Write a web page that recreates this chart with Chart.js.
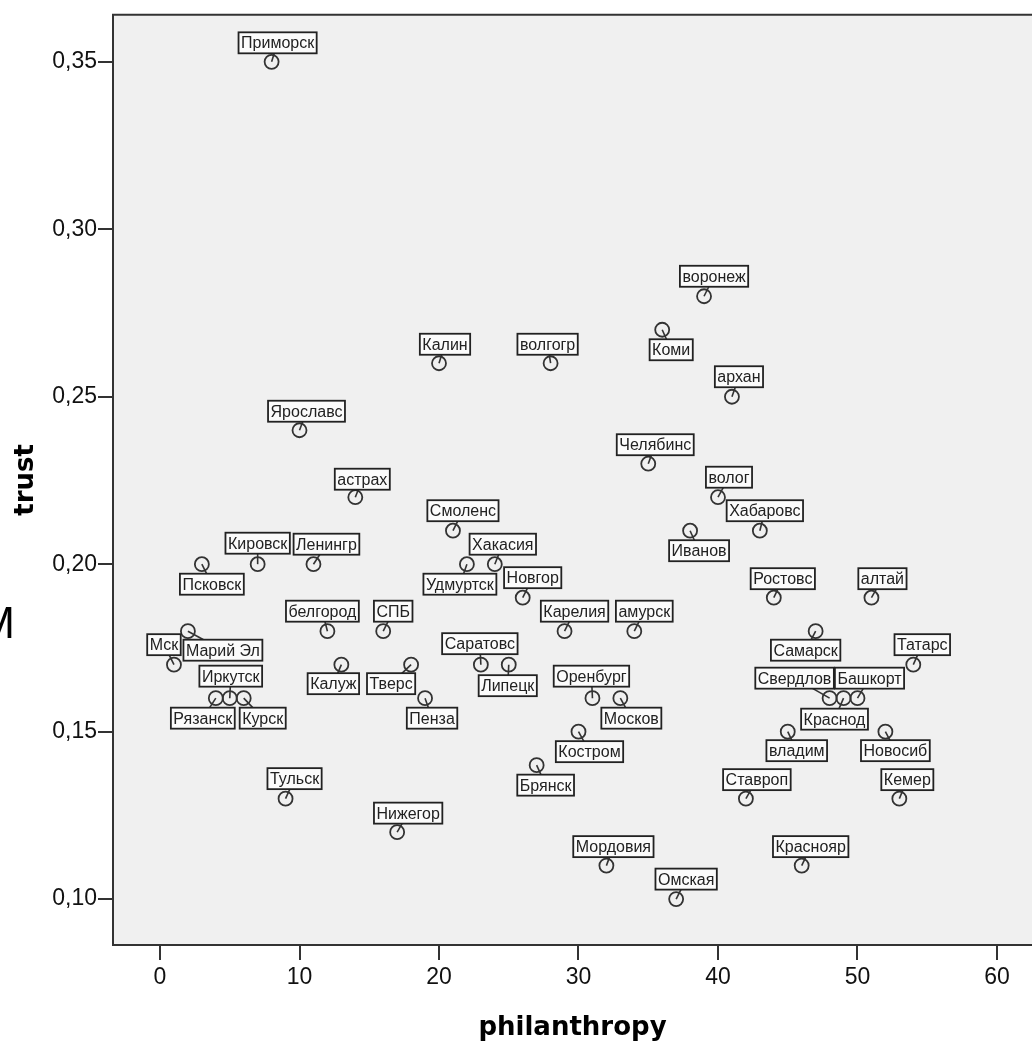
<!DOCTYPE html>
<html>
<head>
<meta charset="utf-8">
<script src="https://cdn.jsdelivr.net/npm/chart.js"></script>
<style>
  html, body { margin: 0; padding: 0; background: #fff; overflow: hidden; }
  canvas { display: block; }
</style>
</head>
<body>
<canvas id="scatter" width="1032" height="1047"></canvas>
<script>
// data
var regions = ["Приморск", "воронеж", "Коми", "Калин", "волгогр", "архан", "Ярославс", "Челябинс",
    "астрах", "волог", "Смоленс", "Хабаровс", "Иванов", "Кировск", "Ленингр", "Псковск",
    "Удмуртск", "Хакасия", "Новгор", "Ростовс", "алтай", "белгород", "СПБ", "Карелия",
    "амурск", "Марий Эл", "Мск", "Самарск", "Калуж", "Тверс", "Саратовс", "Липецк",
    "Татарс", "Рязанск", "Иркутск", "Курск", "Пенза", "Оренбург", "Москов", "Свердлов",
    "Краснод", "Башкорт", "Костром", "владим", "Новосиб", "Брянск", "Тульск", "Ставроп",
    "Кемер", "Нижегор", "Мордовия", "Краснояр", "Омская"];
var philanthropy = [8, 39, 36, 20, 28, 41, 10, 35,
    14, 40, 21, 43, 38, 7, 11, 3,
    22, 24, 26, 44, 51, 12, 16, 29,
    34, 2, 1, 47, 13, 18, 23, 25,
    54, 4, 5, 6, 19, 31, 33, 48,
    49, 50, 30, 45, 52, 27, 9, 42,
    53, 17, 32, 46, 37];
var trust = [0.35, 0.28, 0.27, 0.26, 0.26, 0.25, 0.24, 0.23,
    0.22, 0.22, 0.21, 0.21, 0.21, 0.20, 0.20, 0.20,
    0.20, 0.20, 0.19, 0.19, 0.19, 0.18, 0.18, 0.18,
    0.18, 0.18, 0.17, 0.18, 0.17, 0.17, 0.17, 0.17,
    0.17, 0.16, 0.16, 0.16, 0.16, 0.16, 0.16, 0.16,
    0.16, 0.16, 0.15, 0.15, 0.15, 0.14, 0.13, 0.13,
    0.13, 0.12, 0.11, 0.11, 0.10];
var xTicks = [0, 10, 20, 30, 40, 50, 60];
var xTickLabels = ["0", "10", "20", "30", "40", "50", "60"];
var yTicks = [0.10, 0.15, 0.20, 0.25, 0.30, 0.35];
var yTickLabels = ["0,10", "0,15", "0,20", "0,25", "0,30", "0,35"];

// where each label box sits relative to its point (px), as in the picture
var labelShift = [[6,-19],[10,-20],[9,20],[6,-19],[-3,-19],[7,-20],[7,-19],[7,-19],
    [7,-18],[11,-20],[10,-20],[5,-20],[9,20],[0,-21],[13,-20],[10,20],
    [-7,20],[8,-20],[10,-20],[9,-19],[11,-19],[-5,-20],[10,-20],[10,-20],
    [10,-20],[35,19],[-10,-20],[-10,19],[-8,19],[-20,19],[-1,-21],[-1,21],
    [9,-20],[-13,20],[1,-22],[19,20],[7,20],[-1,-22],[11,20],[-35,-20],
    [-9,21],[12,-20],[11,20],[9,19],[10,19],[9,20],[9,-20],[11,-19],
    [8,-19],[11,-19],[7,-19],[9,-19],[10,-20]];

var points = philanthropy.map(function (x, i) { return { x: x, y: trust[i] }; });
var labelFont = "16px 'Liberation Sans', Arial, sans-serif";

function boxFor(ctx, meta, i) {
    var el = meta.data[i];
    var w = ctx.measureText(regions[i]).width + 5;
    var h = 21;
    var cx = el.x + labelShift[i][0];
    var cy = el.y + labelShift[i][1];
    return { px: el.x, py: el.y, cx: cx, cy: cy, x: cx - w / 2, y: cy - h / 2, w: w, h: h };
}

var sketchPlugin = {
    id: "sketch",
    beforeDraw: function (chart) {
        var a = chart.chartArea, ctx = chart.ctx;
        ctx.save();
        ctx.fillStyle = "#f0f0f0";
        ctx.fillRect(a.left, a.top, a.right - a.left, a.bottom - a.top);
        ctx.restore();
    },
    beforeDatasetsDraw: function (chart) {
        var ctx = chart.ctx, meta = chart.getDatasetMeta(0);
        ctx.save();
        ctx.font = labelFont;
        ctx.strokeStyle = "#333";
        ctx.lineWidth = 1.6;
        for (var i = 0; i < regions.length; i++) {
            var b = boxFor(ctx, meta, i);
            ctx.beginPath();
            ctx.moveTo(b.px, b.py);
            ctx.lineTo(b.cx, b.cy);
            ctx.stroke();
        }
        ctx.restore();
    },
    afterDatasetsDraw: function (chart) {
        var ctx = chart.ctx, meta = chart.getDatasetMeta(0);
        ctx.save();
        ctx.font = labelFont;
        ctx.textAlign = "center";
        ctx.textBaseline = "middle";
        for (var i = 0; i < regions.length; i++) {
            var b = boxFor(ctx, meta, i);
            ctx.fillStyle = "#fbfbfb";
            ctx.fillRect(b.x, b.y, b.w, b.h);
            ctx.strokeStyle = "#222";
            ctx.lineWidth = 1.8;
            ctx.strokeRect(b.x, b.y, b.w, b.h);
            ctx.fillStyle = "#222";
            ctx.fillText(regions[i], b.cx, b.cy + 1);
        }
        ctx.restore();
    },
    afterDraw: function (chart) {
        var a = chart.chartArea, ctx = chart.ctx;
        ctx.save();
        ctx.strokeStyle = "#333";
        ctx.lineWidth = 2;
        ctx.beginPath();
        ctx.moveTo(a.left - 1, a.top);
        ctx.lineTo(a.right, a.top);
        ctx.stroke();
        // cut-off letter at the left edge of the picture
        ctx.fillStyle = "#000";
        ctx.font = "44px 'Liberation Sans', Arial, sans-serif";
        ctx.textAlign = "right";
        ctx.textBaseline = "middle";
        ctx.fillText("M", 15, 626);
        ctx.restore();
    }
};

var ctx = document.getElementById("scatter").getContext("2d");
var chart = new Chart(ctx, {
    type: "scatter",
    data: {
        datasets: [{
            data: points,
            pointStyle: "circle",
            pointRadius: 7,
            pointHoverRadius: 7,
            pointBorderWidth: 1.8,
            pointBorderColor: "#333",
            pointBackgroundColor: "rgba(0,0,0,0)"
        }]
    },
    options: {
        responsive: false,
        devicePixelRatio: 1,
        animation: false,
        layout: { autoPadding: false, padding: { top: 10, right: 0, bottom: 0, left: 0 } },
        plugins: {
            legend: { display: false },
            tooltip: { enabled: false }
        },
        scales: {
            x: {
                type: "linear",
                min: -3.37,
                max: 62.51,
                afterFit: function (scale) { scale.height = 102; },
                afterBuildTicks: function (scale) {
                    scale.ticks = xTicks.map(function (v) { return { value: v }; });
                },
                ticks: {
                    autoSkip: false,
                    maxRotation: 0,
                    padding: 4,
                    color: "#111",
                    font: { family: "'Liberation Sans', Arial", size: 23 },
                    callback: function (v, i) { return xTickLabels[i]; }
                },
                grid: { drawOnChartArea: false, tickLength: 15, color: "#333", lineWidth: 2 },
                border: { display: true, color: "#333", width: 2 },
                title: {
                    display: true,
                    text: "philanthropy",
                    color: "#000",
                    font: { family: "'DejaVu Sans'", size: 26, weight: "bold" },
                    padding: { top: 0, bottom: 3 }
                }
            },
            y: {
                type: "linear",
                min: 0.0863,
                max: 0.36404,
                afterFit: function (scale) { scale.width = 113; },
                afterBuildTicks: function (scale) {
                    scale.ticks = yTicks.map(function (v) { return { value: v }; });
                },
                ticks: {
                    autoSkip: false,
                    padding: 1,
                    color: "#111",
                    font: { family: "'Liberation Sans', Arial", size: 23 },
                    callback: function (v, i) { return yTickLabels[i]; }
                },
                grid: { drawOnChartArea: false, tickLength: 15, color: "#333", lineWidth: 2 },
                border: { display: true, color: "#333", width: 2 },
                title: {
                    display: true,
                    text: "trust",
                    color: "#000",
                    font: { family: "'DejaVu Sans'", size: 26, weight: "bold" },
                    padding: { top: 11, bottom: 0 }
                }
            }
        }
    },
    plugins: [sketchPlugin]
});
</script>
</body>
</html>
